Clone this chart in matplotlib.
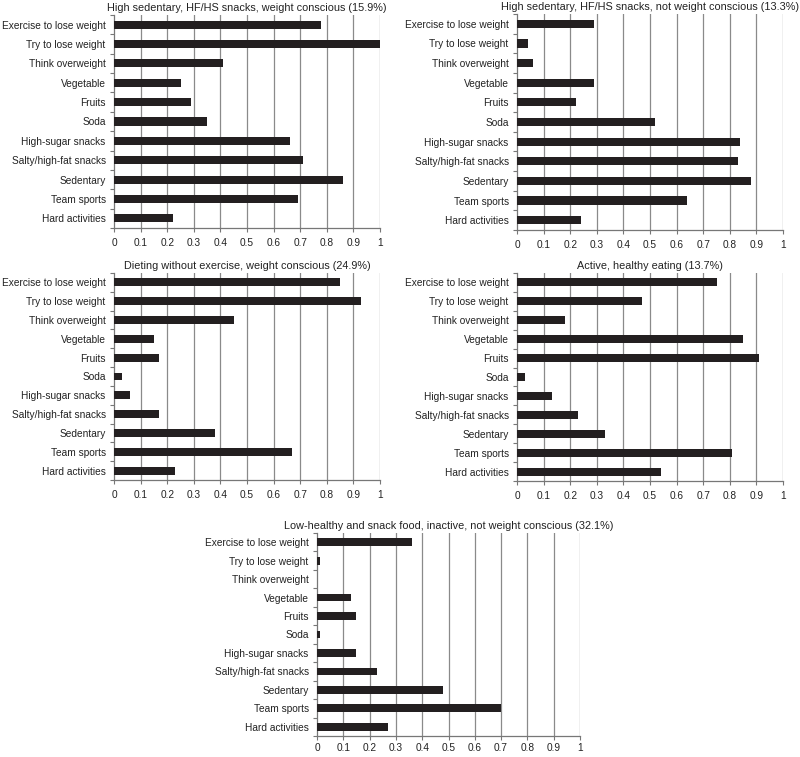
import matplotlib
matplotlib.use("Agg")
import matplotlib.pyplot as plt
import numpy as np

plt.rcParams['font.family'] = ['Liberation Sans', 'DejaVu Sans']

categories = ["Exercise to lose weight", "Try to lose weight", "Think overweight",
              "Vegetable", "Fruits", "Soda", "High-sugar snacks",
              "Salty/high-fat snacks", "Sedentary", "Team sports", "Hard activities"]

titles = ["High sedentary, HF/HS snacks, weight conscious (15.9%)",
          "High sedentary, HF/HS snacks, not weight conscious (13.3%)",
          "Dieting without exercise, weight conscious (24.9%)",
          "Active, healthy eating (13.7%)",
          "Low-healthy and snack food, inactive, not weight conscious (32.1%)"]

vals_1 = [0.78, 1.00, 0.41, 0.25, 0.29, 0.35, 0.66, 0.71, 0.86, 0.69, 0.22]
vals_2 = [0.29, 0.04, 0.06, 0.29, 0.22, 0.52, 0.84, 0.83, 0.88, 0.64, 0.24]
vals_3 = [0.85, 0.93, 0.45, 0.15, 0.17, 0.03, 0.06, 0.17, 0.38, 0.67, 0.23]
vals_4 = [0.75, 0.47, 0.18, 0.85, 0.91, 0.03, 0.13, 0.23, 0.33, 0.81, 0.54]
vals_5 = [0.36, 0.01, 0.00, 0.13, 0.15, 0.01, 0.15, 0.23, 0.48, 0.70, 0.27]

xticks = [0, 0.1, 0.2, 0.3, 0.4, 0.5, 0.6, 0.7, 0.8, 0.9, 1]
xticklabels = ["0", "0.1", "0.2", "0.3", "0.4", "0.5", "0.6", "0.7", "0.8", "0.9", "1"]

W, H = 800, 757
fig = plt.figure(figsize=(W / 100, H / 100), dpi=100)

# pixel boxes: left, top, right, bottom
boxes = [(114, 15, 380, 228), (517, 14, 783, 230), (114, 273, 380, 480),
         (517, 273, 783, 481), (317, 533, 580, 736)]
all_vals = [vals_1, vals_2, vals_3, vals_4, vals_5]

bar_color = "#231f20"
fs = 7.3
for i, ((l, t, r, b), vals, title) in enumerate(zip(boxes, all_vals, titles)):
    ax = fig.add_axes([l / W, 1 - b / H, (r - l) / W, (b - t) / H])
    y = np.arange(len(categories))
    ax.barh(y, vals, height=0.42, color=bar_color, zorder=3)
    ax.set_xlim(0, 1)
    ax.set_ylim(len(categories) - 0.5, -0.5)
    ax.set_xticks(xticks)
    ax.set_xticklabels(xticklabels, fontsize=fs, color="#222222")
    ax.set_yticks(y)
    ax.set_yticklabels(categories, fontsize=fs, color="#222222")
    ax.set_yticks(np.arange(len(categories) + 1) - 0.5, minor=True)
    ax.tick_params(axis='y', which='major', length=0, pad=6)
    ax.tick_params(axis='y', which='minor', length=3, color="#777777", width=0.8)
    ax.tick_params(axis='x', length=3, color="#777777", width=0.8,
                   pad=(2 if i == 4 else 4))
    for xv in xticks[1:]:
        ax.axvline(xv, color="#8a8a8a", lw=0.9, zorder=1)
    for s in ['top', 'right']:
        ax.spines[s].set_visible(False)
    for s in ['left', 'bottom']:
        ax.spines[s].set_color("#777777")
        ax.spines[s].set_linewidth(0.9)
    ax.set_title(title, fontsize=fs + 0.5, color="#222222", pad=3)

fig.savefig("out.png", dpi=100, facecolor="white")
